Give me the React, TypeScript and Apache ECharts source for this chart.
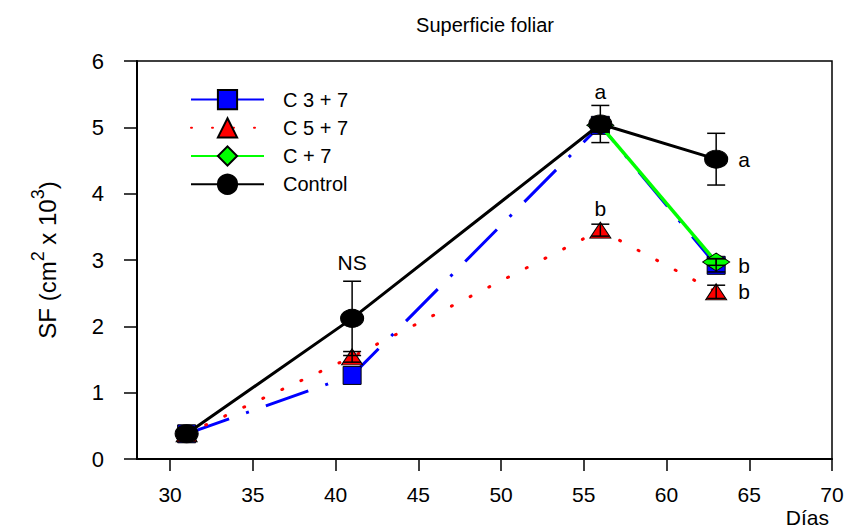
import React, { useEffect, useRef } from "react";
import * as echarts from "echarts";

// Sampling days
const days = [31, 41, 56, 63];
const daysC7 = [56, 63];

// Leaf area (cm² x 10³) per treatment, with standard errors
const c37 = [0.38, 1.26, 5.03, 2.92];
const c37Err = [0.05, 0, 0.1, 0.1];
const c57 = [0.38, 1.54, 3.45, 2.52];
const c57Err = [0.05, 0.08, 0.09, 0.1];
const c7 = [5.03, 2.97];
const c7Err = [0.1, 0.05];
const control = [0.38, 2.12, 5.05, 4.52];
const controlErr = [0.05, 0.56, 0.28, 0.39];

// Significance letters
const controlLetters = ["", "NS", "a", "a"];
const c57Letters = ["", "", "b", "b"];
const c37Letters = ["", "", "", "b"];

const xTicks = [30, 35, 40, 45, 50, 55, 60, 65, 70];

const FONT = "Liberation Sans, Arial, sans-serif";

function letterOffset(day: number, above: number): [number, number] {
  if (day === 63) return [28, 0];
  return [0, -above];
}

function pointData(xs: number[], ys: number[], letters: string[], above: number[]) {
  return xs.map((x, i) => {
    const t = letters[i];
    const item: any = { value: [x, ys[i]] };
    if (t) {
      item.label = {
        show: true,
        position: "inside",
        formatter: t,
        offset: letterOffset(x, above[i]),
        color: "#000",
        fontSize: 21,
        fontFamily: FONT,
      };
    }
    return item;
  });
}

function errData(xs: number[], ys: number[], errs: number[]) {
  return xs
    .map((x, i) => [x, ys[i] - errs[i], ys[i] + errs[i]])
    .filter((d, i) => errs[i] > 0);
}

function errSeries(name: string, data: number[][], z: number) {
  return {
    type: "custom",
    name: name + "_err",
    z,
    silent: true,
    renderItem: (params: any, api: any) => {
      const x = api.value(0);
      const lo = api.coord([x, api.value(1)]);
      const hi = api.coord([x, api.value(2)]);
      const w = 9;
      const st = { stroke: "#000", lineWidth: 1.5 };
      return {
        type: "group",
        children: [
          { type: "line", shape: { x1: lo[0], y1: lo[1], x2: hi[0], y2: hi[1] }, style: st },
          { type: "line", shape: { x1: lo[0] - w, y1: lo[1], x2: lo[0] + w, y2: lo[1] }, style: st },
          { type: "line", shape: { x1: hi[0] - w, y1: hi[1], x2: hi[0] + w, y2: hi[1] }, style: st },
        ],
      };
    },
    data,
    tooltip: { show: false },
  };
}

export default function App() {
  const ref = useRef<HTMLDivElement>(null);

  useEffect(() => {
    if (!ref.current) return;
    const chart = echarts.init(ref.current, undefined, { renderer: "svg" });
    const border = { borderColor: "#000", borderWidth: 1 };

    chart.setOption({
      animation: false,
      backgroundColor: "#fff",
      legend: {
        left: 185,
        top: 84,
        orient: "vertical",
        itemWidth: 73,
        itemHeight: 24,
        itemGap: 7,
        textStyle: { fontFamily: FONT, fontSize: 20, color: "#000", padding: [0, 0, 0, 14] },
        data: [
          { name: "C 3 + 7", lineStyle: { type: "solid" } },
          { name: "C 5 + 7" },
          { name: "C + 7" },
          { name: "Control" },
        ],
      },
      grid: {
        left: 137,
        right: 17,
        top: 61,
        bottom: 68,
        show: true,
        borderColor: "#000",
        borderWidth: 1.5,
        backgroundColor: "transparent",
      },
      xAxis: {
        type: "value",
        min: 28,
        max: 70,
        axisLine: { show: true, onZero: false, lineStyle: { color: "#000", width: 2 } },
        axisTick: {
          show: true,
          length: 12,
          customValues: xTicks,
          lineStyle: { color: "#000", width: 1.5 },
        },
        axisLabel: {
          customValues: xTicks,
          margin: 25,
          color: "#000",
          fontSize: 21,
          fontFamily: FONT,
        },
        splitLine: { show: false },
      },
      yAxis: {
        type: "value",
        min: 0,
        max: 6,
        interval: 1,
        name: "{m|SF (cm}{s|2}{m| x 10}{s|3}{m|)}",
        nameLocation: "middle",
        nameRotate: 90,
        nameGap: 78,
        nameTextStyle: {
          rich: {
            m: { fontFamily: FONT, fontSize: 24, color: "#000", lineHeight: 30, verticalAlign: "bottom" },
            s: { fontFamily: FONT, fontSize: 18, color: "#000", lineHeight: 30, verticalAlign: "top" },
          },
        },
        axisLine: { show: true, lineStyle: { color: "#000", width: 2 } },
        axisTick: { show: true, length: 13, lineStyle: { color: "#000", width: 1.5 } },
        axisLabel: { margin: 33, color: "#000", fontSize: 22, fontFamily: FONT },
        splitLine: { show: false },
      },
      series: [
        {
          name: "C 3 + 7",
          type: "line",
          z: 2,
          data: pointData(days, c37, c37Letters, [0, 0, 0, 0]),
          symbol: "rect",
          symbolSize: 18,
          itemStyle: { color: "#0000ff", ...border },
          lineStyle: { color: "#0000ff", width: 3, type: [45, 18, 3, 18] },
        },
        {
          name: "C 5 + 7",
          type: "line",
          z: 3,
          data: pointData(days, c57, c57Letters, [0, 0, 22, 0]),
          symbol: "triangle",
          symbolSize: [21, 16],
          itemStyle: { color: "#ff0000", ...border },
          lineStyle: { color: "#ff0000", width: 3, type: [1, 20], cap: "round" },
        },
        {
          name: "C + 7",
          type: "line",
          z: 4,
          data: pointData(daysC7, c7, ["", ""], [0, 0]),
          symbol: "diamond",
          symbolSize: [27, 18],
          itemStyle: { color: "#00ff00", ...border },
          lineStyle: { color: "#00ff00", width: 3.5 },
        },
        {
          name: "Control",
          type: "line",
          z: 5,
          data: pointData(days, control, controlLetters, [0, 56, 33, 0]),
          symbol: "circle",
          symbolSize: [23, 18],
          itemStyle: { color: "#000", ...border },
          lineStyle: { color: "#000", width: 3 },
        },
        errSeries("C 3 + 7", errData(days, c37, c37Err), 6),
        errSeries("C 5 + 7", errData(days, c57, c57Err), 6),
        errSeries("C + 7", errData(daysC7, c7, c7Err), 6),
        errSeries("Control", errData(days, control, controlErr), 6),
      ],
      graphic: [
        {
          type: "text",
          x: 485,
          y: 25,
          style: {
            text: "Superficie foliar",
            fontFamily: FONT,
            fontSize: 20,
            fill: "#000",
            align: "center",
            verticalAlign: "middle",
          },
        },
        {
          type: "text",
          x: 829,
          y: 517,
          style: {
            text: "Días",
            fontFamily: FONT,
            fontSize: 21,
            fill: "#000",
            align: "right",
            verticalAlign: "middle",
          },
        },
      ],
    });

    return () => chart.dispose();
  }, []);

  return (
    <div
      ref={ref}
      style={{ position: "fixed", left: 0, top: 0, width: 849, height: 527 }}
    />
  );
}
